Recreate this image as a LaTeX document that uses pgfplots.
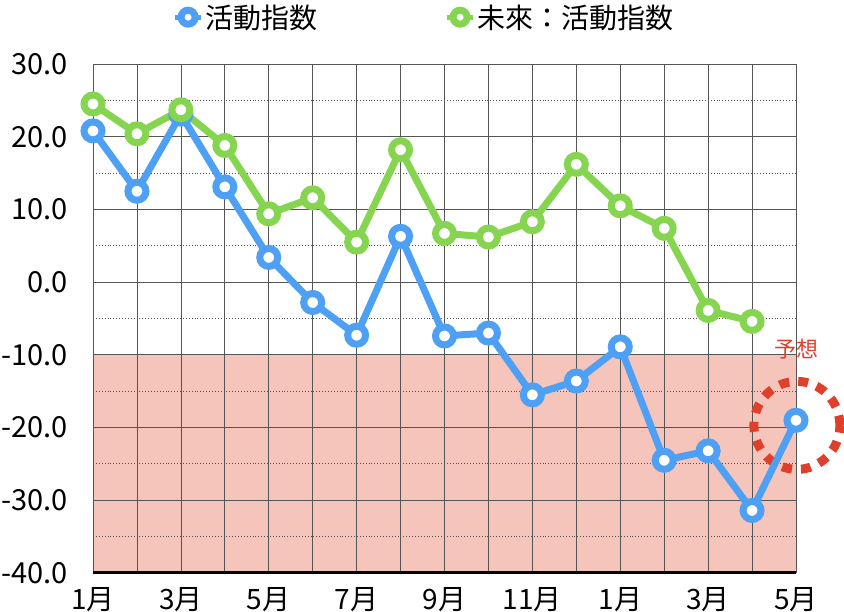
\documentclass[border=0pt]{standalone}
\usepackage{fontspec}
\setmainfont{Noto Sans CJK JP}
\usepackage{pgfplots}
\pgfplotsset{compat=1.18}
\definecolor{cblue}{HTML}{4DA0F4}
\definecolor{cgreen}{HTML}{86D550}
\definecolor{cband}{HTML}{F5C5BB}
\definecolor{cred}{HTML}{E0402B}
\definecolor{cgrid}{HTML}{555555}
\begin{document}
\begin{tikzpicture}
\begin{axis}[
  set layers,
  clip=false,
  at={(0,0)}, anchor=south west,
  scale only axis, width=703pt, height=509pt,
  xmin=1, xmax=17, ymin=-40, ymax=30,
  xtick={1,...,17},
  xticklabels={1月,,3月,,5月,,7月,,9月,,11月,,1月,,3月,,5月},
  ytick={-40,-30,...,30},
  yticklabels={-40.0,-30.0,-20.0,-10.0,0.0,10.0,20.0,30.0},
  minor ytick={-35,-25,...,25},
  grid=both,
  x grid style={draw=cgrid, line width=0.7pt},
  y grid style={draw=cgrid, line width=0.9pt},
  minor y grid style={draw=cgrid, line width=0.9pt, dotted},
  major tick length=0pt, minor tick length=0pt,
  tick style={draw=none},
  axis line style={draw=none},
  yticklabel style={font=\fontsize{29}{32}\selectfont, inner sep=0pt, anchor=east, xshift=-25pt},
  xticklabel style={font=\fontsize{28}{30}\selectfont, inner sep=0pt, anchor=north, yshift=-14pt},
  legend style={draw=none, fill=none, at={(0.471,1.092)}, anchor=center,
    font=\fontsize{28}{30}\selectfont,
    /tikz/every even column/.append style={column sep=125pt}},
  legend columns=2,
  legend image code/.code={\draw[mark repeat=2,mark phase=2,#1,line width=5pt, mark size=7pt] plot coordinates {(0pt,0pt)(13pt,0pt)(26pt,0pt)};},
]
\begin{pgfonlayer}{axis background}
\fill[cband] (axis cs:1,-40) rectangle (axis cs:17,-10);
\end{pgfonlayer}
\draw[cred, line width=9pt, dash pattern=on 10pt off 9pt] (axis cs:17.02,-19.7) ellipse [x radius=43pt, y radius=44pt];
\node[cred, font=\fontsize{22}{24}\selectfont] at (axis cs:17.02,-9.2) {予想};

\addplot[cblue, line width=7pt, mark=*, mark size=9pt, mark options={fill=white, line width=7pt}] coordinates {
(1,20.8)(2,12.5)(3,23.1)(4,13.1)(5,3.4)(6,-2.8)(7,-7.3)(8,6.3)(9,-7.4)(10,-7.0)
(11,-15.5)(12,-13.6)(13,-8.9)(14,-24.5)(15,-23.2)(16,-31.4)(17,-19.0)};
\addlegendentry{活動指数}
\addplot[cgreen, line width=7pt, mark=*, mark size=9pt, mark options={fill=white, line width=7pt}] coordinates {
(1,24.5)(2,20.4)(3,23.7)(4,18.8)(5,9.4)(6,11.6)(7,5.5)(8,18.2)(9,6.7)(10,6.2)
(11,8.3)(12,16.2)(13,10.5)(14,7.4)(15,-3.9)(16,-5.4)};
\addlegendentry{未來：活動指数}
\draw[black, line width=3pt] (axis cs:1,-40) -- (axis cs:17,-40);
\end{axis}
\pgfresetboundingbox
\path[use as bounding box] (-93pt,-39pt) rectangle (751pt,573pt);
\end{tikzpicture}
\end{document}
